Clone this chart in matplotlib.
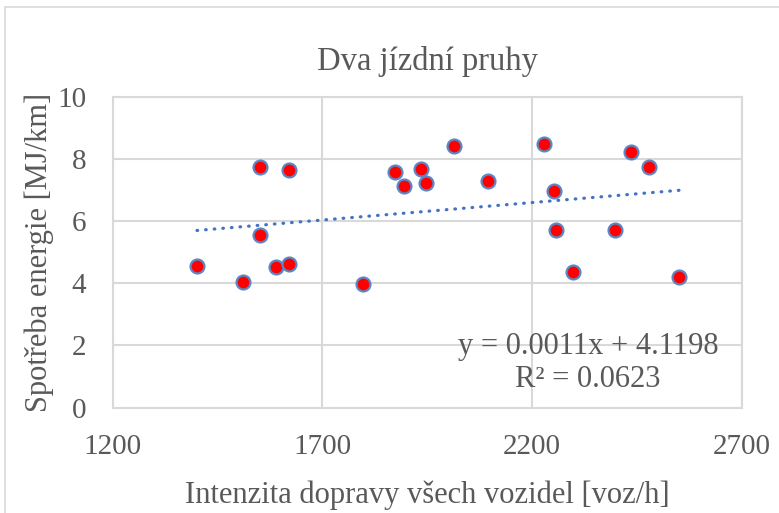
import numpy as np
import matplotlib.pyplot as plt
from matplotlib.patches import Rectangle

# intenzita [voz/h] a spotreba [MJ/km]
intenzita = [1401, 1510, 1551, 1552, 1589, 1620, 1620, 1798, 1874, 1894, 1936,
             1948, 2014, 2095, 2228, 2252, 2257, 2298, 2398, 2437, 2479, 2551]
spotreba = [4.56, 4.03, 7.75, 5.54, 4.52, 4.62, 7.65, 3.99, 7.58, 7.14, 7.67,
            7.23, 8.42, 7.30, 8.48, 6.96, 5.71, 4.37, 5.72, 8.22, 7.74, 4.19]
x_ticks = [1200, 1700, 2200, 2700]
y_ticks = [0, 2, 4, 6, 8, 10]
rovnice = 'y = 0.0011x + 4.1198\nR² = 0.0623'

text_col = '#595959'
grid_col = '#d9d9d9'
plt.rcParams['font.family'] = ['Liberation Serif', 'DejaVu Serif']

fig = plt.figure(figsize=(7.79, 5.13), dpi=100)
fig.patches.append(Rectangle((5 / 779, -0.1), 2, 1.1 - 7 / 513, transform=fig.transFigure,
                             fill=False, edgecolor=grid_col, lw=1.2))
ax = fig.add_axes([0.1447, 0.2053, 0.9521 - 0.1447, 0.8115 - 0.2053])

# trend line
k, q = np.polyfit(intenzita, spotreba, 1)
xs = np.array([min(intenzita), max(intenzita)])
ax.plot(xs, k * xs + q, color='#4472c4', lw=2.3, linestyle=(0, (0.2, 2.5)),
        dash_capstyle='round', zorder=2)

ax.scatter(intenzita, spotreba, s=100, facecolor='#ff0000', edgecolor='#5b87c5',
           linewidth=1.6, zorder=3)

ax.set_xlim(1200, 2700)
ax.set_ylim(0, 10)
ax.set_xticks(x_ticks)
ax.set_yticks(y_ticks)
ax.grid(True, color=grid_col, lw=1.5)
ax.set_axisbelow(True)
for s in ax.spines.values():
    s.set_color(grid_col)
    s.set_linewidth(1.5)
ax.tick_params(length=0, labelsize=21, labelcolor=text_col)
ax.tick_params(axis='x', pad=19)
ax.tick_params(axis='y', pad=19)

ax.set_title('Dva jízdní pruhy', fontsize=23.5, color=text_col, pad=19)
ax.set_xlabel('Intenzita dopravy všech vozidel [voz/h]', fontsize=22, color=text_col, labelpad=15)
ax.set_ylabel('Spotřeba energie [MJ/km]', fontsize=22, color=text_col, labelpad=2)

ax.text(2334, 1.44, rovnice, fontsize=22, color=text_col, ha='center', va='center',
        linespacing=1.15, zorder=4)

fig.savefig('out.png', dpi=100)
